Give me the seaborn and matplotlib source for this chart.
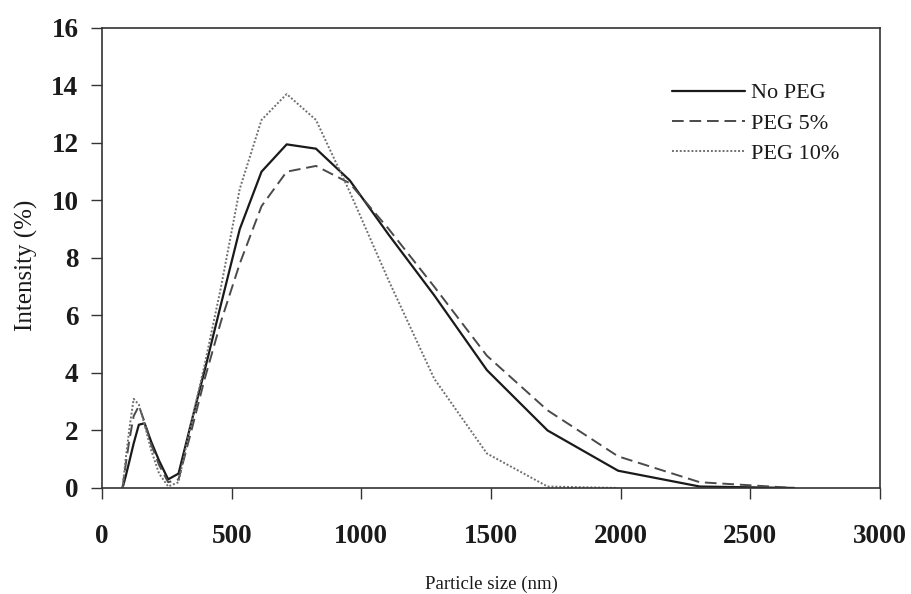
import numpy as np
import pandas as pd
import matplotlib
matplotlib.use("Agg")
import matplotlib.pyplot as plt
import seaborn as sns

# Size-distribution bins (nm) and intensity (%) for each formulation
sizes = [79, 91, 106, 122, 142, 164, 190, 220, 255, 295, 342, 396, 459,
         531, 615, 712, 825, 955, 1106, 1281, 1484, 1718, 1990, 2305, 2669]
no_peg = [0, 0.4, 0.95, 1.55, 2.2, 2.25, 1.6, 0.95, 0.3, 0.5, 2.2, 4.1, 6.4,
          9.0, 11.0, 11.95, 11.8, 10.7, 8.8, 6.7, 4.1, 2.0, 0.6, 0.05, 0]
peg_5 = [0, 0.8, 1.7, 2.5, 2.85, 2.3, 1.5, 0.8, 0.2, 0.3, 1.9, 3.8, 5.8,
         7.8, 9.8, 11.0, 11.2, 10.6, 9.0, 7.0, 4.6, 2.7, 1.1, 0.2, 0]
peg_10 = [0, 1.0, 2.1, 3.1, 2.9, 2.2, 1.3, 0.5, 0.05, 0.2, 2.2, 4.3, 7.0,
          10.4, 12.8, 13.7, 12.8, 10.3, 7.2, 3.8, 1.2, 0.05, 0.0, np.nan, np.nan]
series_names = ["No PEG", "PEG 5%", "PEG 10%"]

x_ticks = [0, 500, 1000, 1500, 2000, 2500, 3000]
y_ticks = [0, 2, 4, 6, 8, 10, 12, 14, 16]

df = pd.concat([
    pd.DataFrame({"size": sizes, "intensity": vals, "sample": name})
    for name, vals in zip(series_names, [no_peg, peg_5, peg_10])
], ignore_index=True).dropna()

sns.set_style("ticks")
plt.rcParams["font.family"] = ["Liberation Serif", "DejaVu Serif"]

fig = plt.figure(figsize=(9.11, 5.94), dpi=100)
ax = fig.add_axes([0.112, 0.1785, 0.854, 0.7745])

palette = {"No PEG": "#1a1a1a", "PEG 5%": "#4a4a4a", "PEG 10%": "#707070"}
dashes = {"No PEG": "", "PEG 5%": (6, 3), "PEG 10%": (1, 1)}
sizes_map = {"No PEG": 1.6, "PEG 5%": 1.4, "PEG 10%": 1.4}

sns.lineplot(data=df, x="size", y="intensity", hue="sample", style="sample",
             size="sample", sizes=sizes_map, hue_order=series_names,
             style_order=series_names, palette=palette, dashes=dashes,
             sort=True, estimator=None, ax=ax, legend=False)

ax.set_xlim(0, 3000)
ax.set_ylim(0, 16)
ax.set_xticks(x_ticks)
ax.set_yticks(y_ticks)
ax.tick_params(axis="both", direction="out", length=8, width=1.0,
               colors="#333333", labelcolor="#1a1a1a", labelsize=19.5)
for lab in ax.get_xticklabels() + ax.get_yticklabels():
    lab.set_fontweight("bold")
ax.tick_params(axis="x", pad=18)
ax.tick_params(axis="y", pad=9)

for side in ["left", "right", "top", "bottom"]:
    ax.spines[side].set_visible(True)
    ax.spines[side].set_color("#333333")
    ax.spines[side].set_linewidth(1.2)

ax.set_xlabel("Particle size (nm)", fontsize=13.5, color="#1a1a1a")
ax.xaxis.set_label_coords(0.5, -0.19)
ax.set_ylabel("Intensity (%)", fontsize=18, color="#1a1a1a")
ax.yaxis.set_label_coords(-0.082, 0.485)

handles = [plt.Line2D([], [], color=palette[n], lw=sizes_map[n],
                      dashes=dashes[n] if dashes[n] else (None, None))
           for n in series_names]
handles[0].set_linestyle("-")
leg = ax.legend(handles, series_names, loc="upper right",
                bbox_to_anchor=(0.9735, 0.924), frameon=False, fontsize=16,
                handlelength=3.3, handletextpad=0.27, labelspacing=0.44)
for t in leg.get_texts():
    t.set_color("#1a1a1a")

fig.savefig("out.png", dpi=100)
